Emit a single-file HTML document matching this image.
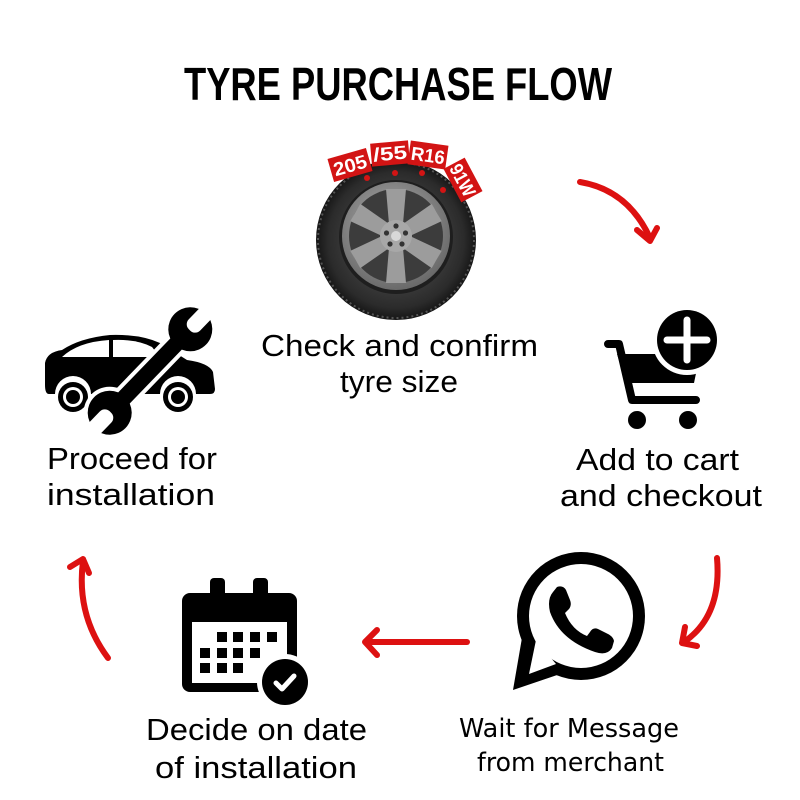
<!DOCTYPE html>
<html><head><meta charset="utf-8"><style>
html,body{margin:0;padding:0;background:#fff;}
svg{display:block;}
</style></head><body>
<svg width="800" height="800" viewBox="0 0 800 800" xmlns="http://www.w3.org/2000/svg">
<defs>
<radialGradient id="tyreG" cx="50%" cy="50%" r="50%">
<stop offset="0.6" stop-color="#3a3a3a"/><stop offset="0.85" stop-color="#2b2b2b"/><stop offset="1" stop-color="#151515"/>
</radialGradient>
<radialGradient id="rimG" cx="45%" cy="40%" r="60%">
<stop offset="0" stop-color="#b0b0b0"/><stop offset="1" stop-color="#6a6a6a"/>
</radialGradient>
</defs>
<rect width="800" height="800" fill="#fff"/>

<!-- Title -->
<text x="184" y="100" font-family="Liberation Sans, sans-serif" font-weight="bold" font-size="46" textLength="428" lengthAdjust="spacingAndGlyphs" fill="#000">TYRE PURCHASE FLOW</text>

<!-- Tyre -->
<circle cx="396" cy="240" r="80" fill="url(#tyreG)"/>
<circle cx="396" cy="240" r="78" fill="none" stroke="#555" stroke-width="2" stroke-dasharray="2 3"/>
<circle cx="396" cy="237" r="57" fill="#1e1e1e"/>
<circle cx="396" cy="236" r="54" fill="url(#rimG)"/>
<circle cx="396" cy="236" r="47" fill="#3c3c3c"/>
<g fill="#9c9c9c" transform="translate(396,236)">
<polygon points="-7,-12 7,-12 10,-47 -10,-47"/>
<polygon points="-7,-12 7,-12 10,-47 -10,-47" transform="rotate(60)"/>
<polygon points="-7,-12 7,-12 10,-47 -10,-47" transform="rotate(120)"/>
<polygon points="-7,-12 7,-12 10,-47 -10,-47" transform="rotate(180)"/>
<polygon points="-7,-12 7,-12 10,-47 -10,-47" transform="rotate(240)"/>
<polygon points="-7,-12 7,-12 10,-47 -10,-47" transform="rotate(300)"/>
<circle r="16" fill="#a8a8a8"/>
<circle r="5" fill="#d8d8d8"/>
<circle cx="0" cy="-10" r="2.6" fill="#333"/>
<circle cx="9.5" cy="-3" r="2.6" fill="#333"/>
<circle cx="6" cy="8" r="2.6" fill="#333"/>
<circle cx="-6" cy="8" r="2.6" fill="#333"/>
<circle cx="-9.5" cy="-3" r="2.6" fill="#333"/>
</g>
<!-- tyre labels -->
<g fill="#d21414">
<rect x="-20" y="-12" width="40" height="24" transform="translate(350,165) rotate(-16)"/>
<rect x="-19" y="-11" width="38" height="23" transform="translate(390,153) rotate(-5)"/>
<rect x="-19" y="-12" width="38" height="24" transform="translate(428,155) rotate(8)"/>
<rect x="-19" y="-12" width="38" height="24" transform="translate(463,180) rotate(62)"/>
<circle cx="367" cy="178" r="3"/><circle cx="395" cy="173" r="3"/><circle cx="422" cy="173" r="3"/><circle cx="443" cy="190" r="3"/>
</g>
<g fill="#fff" font-family="Liberation Sans, sans-serif" font-weight="bold" font-size="19">
<text x="-17" y="7" textLength="34" lengthAdjust="spacingAndGlyphs" transform="translate(350,165) rotate(-16)">205</text>
<text x="-17" y="7" textLength="34" lengthAdjust="spacingAndGlyphs" transform="translate(390,153) rotate(-5)">/55</text>
<text x="-17" y="7" textLength="34" lengthAdjust="spacingAndGlyphs" transform="translate(428,155) rotate(8)">R16</text>
<text x="-17" y="7" textLength="34" lengthAdjust="spacingAndGlyphs" transform="translate(463,180) rotate(62)">91W</text>
</g>

<g font-family="Liberation Sans, sans-serif" font-size="31" fill="#000">
<text x="261" y="356" textLength="277" lengthAdjust="spacingAndGlyphs">Check and confirm</text>
<text x="340" y="392" textLength="118" lengthAdjust="spacingAndGlyphs">tyre size</text>
<text x="47" y="469" textLength="170" lengthAdjust="spacingAndGlyphs">Proceed for</text>
<text x="47" y="505" textLength="168" lengthAdjust="spacingAndGlyphs">installation</text>
<text x="576" y="470" textLength="163" lengthAdjust="spacingAndGlyphs">Add to cart</text>
<text x="560" y="506" textLength="202" lengthAdjust="spacingAndGlyphs">and checkout</text>
<text x="146" y="740" textLength="221" lengthAdjust="spacingAndGlyphs">Decide on date</text>
<text x="155" y="778" textLength="202" lengthAdjust="spacingAndGlyphs">of installation</text>
</g>
<g font-family="DejaVu Sans, sans-serif" font-size="26" fill="#000">
<text x="459" y="737" textLength="220" lengthAdjust="spacingAndGlyphs">Wait for Message</text>
<text x="477" y="771" textLength="187" lengthAdjust="spacingAndGlyphs">from merchant</text>
</g>

<!-- Car + wrench -->
<path d="M45,385 L45,363 Q47,352 62,350 Q80,338 110,335 Q140,334 160,343 L187,360 Q209,363 213,372 L215,389 Q215,394 210,394 L196,394 A18,18 0 0 0 160,394 L91,394 A18,18 0 0 0 55,394 L49,394 Q45,394 45,385 Z" fill="#000"/>
<path d="M62,357 Q78,342 109,340 L109,357 Z" fill="#fff"/>
<path d="M113,340 Q137,339 152,347 L160,357 L113,357 Z" fill="#fff"/>
<circle cx="73" cy="397" r="15" fill="#000"/><circle cx="73" cy="397" r="10" fill="#fff"/><circle cx="73" cy="397" r="7" fill="#000"/>
<circle cx="178" cy="397" r="15" fill="#000"/><circle cx="178" cy="397" r="10" fill="#fff"/><circle cx="178" cy="397" r="7" fill="#000"/>
<g transform="translate(150,371) rotate(-46)">
<g fill="#fff" stroke="#fff" stroke-width="8">
<rect x="-50" y="-8" width="100" height="16"/>
<circle cx="58" cy="0" r="22"/><circle cx="-58" cy="0" r="22"/>
</g>
<g fill="#000">
<rect x="-50" y="-8" width="100" height="16"/>
<circle cx="58" cy="0" r="22"/><circle cx="-58" cy="0" r="22"/>
</g>
<g fill="#fff">
<rect x="57" y="-8" width="34" height="16" rx="7"/>
<rect x="-91" y="-8" width="34" height="16" rx="7"/>
</g>
</g>

<!-- Cart -->
<g stroke="#000" stroke-width="8" stroke-linecap="round" stroke-linejoin="round" fill="none">
<polyline points="608,344 619,344 632,400 696,400"/>
</g>
<polygon points="617,354 700,354 694,383 626,383" fill="#000"/>
<circle cx="637" cy="420" r="9" fill="#000"/>
<circle cx="688" cy="420" r="9" fill="#000"/>
<circle cx="687" cy="340" r="35" fill="#fff"/>
<circle cx="687" cy="340" r="30" fill="#000"/>
<g stroke="#fff" stroke-width="7" stroke-linecap="round">
<line x1="667" y1="340" x2="707" y2="340"/><line x1="687" y1="320" x2="687" y2="360"/>
</g>

<!-- WhatsApp -->
<circle cx="581" cy="616" r="64" fill="#000"/>
<polygon points="523,632 513,690 566,672" fill="#000"/>
<polygon points="536,640 529,674 556,664" fill="#fff"/>
<circle cx="581" cy="616" r="52" fill="#fff"/>
<path d="M553,592 Q547,599 550,612 Q560,640 595,652 Q607,656 612,648 L614,641 Q613,636 606,633 L598,629 Q593,627 590,632 L587,636 Q572,630 565,613 L569,609 Q572,605 570,600 L566,590 Q563,585 557,587 Z" fill="#000"/>

<!-- Calendar -->
<rect x="182" y="593" width="115" height="99" rx="8" fill="#000"/>
<rect x="192" y="622" width="95" height="61" fill="#fff"/>
<rect x="210" y="578" width="15" height="20" rx="4" fill="#000"/>
<rect x="253" y="578" width="15" height="20" rx="4" fill="#000"/>
<g fill="#000">
<rect x="217" y="632" width="10" height="10"/><rect x="233" y="632" width="10" height="10"/><rect x="250" y="632" width="10" height="10"/><rect x="267" y="632" width="10" height="10"/>
<rect x="200" y="648" width="10" height="10"/><rect x="217" y="648" width="10" height="10"/><rect x="233" y="648" width="10" height="10"/><rect x="250" y="648" width="10" height="10"/>
<rect x="200" y="663" width="10" height="10"/><rect x="217" y="663" width="10" height="10"/><rect x="233" y="663" width="10" height="10"/>
</g>
<circle cx="285" cy="682" r="28" fill="#fff"/>
<circle cx="285" cy="682" r="23" fill="#000"/>
<polyline points="276,683 282,689 294,676" fill="none" stroke="#fff" stroke-width="5" stroke-linecap="round" stroke-linejoin="round"/>

<!-- Red arrows -->
<g fill="none" stroke="#dd1111" stroke-width="6" stroke-linecap="round" stroke-linejoin="round">
<path d="M580,182 Q628,190 650,238"/>
<path d="M637,230 L650,241 L657,228"/>
<path d="M717,558 Q722,616 684,642"/>
<path d="M685,627 L682,643 L697,646"/>
<path d="M467,642 L366,642"/>
<path d="M377,630 L365,642 L377,655"/>
<path d="M108,658 Q76,615 83,561"/>
<path d="M70,567 L83,559 L89,573"/>
</g>
</svg>
</body></html>
